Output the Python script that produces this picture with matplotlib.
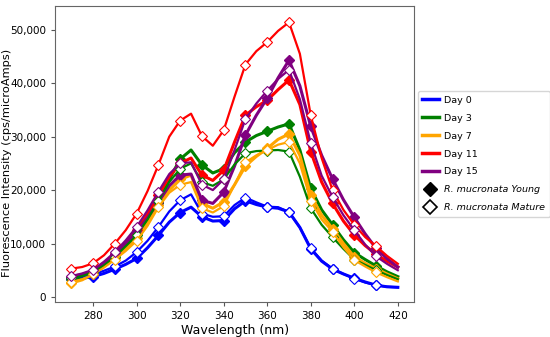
import matplotlib
matplotlib.use('Agg')
import matplotlib.pyplot as plt
from matplotlib.lines import Line2D
from matplotlib.ticker import FuncFormatter

# wavelengths (nm) sampled every 5 nm, markers every 10 nm
wavelength = list(range(270, 425, 5))

days = ['Day 0', 'Day 3', 'Day 7', 'Day 11', 'Day 15']
colors = ['blue', 'green', 'orange', 'red', 'purple']

# R. mucronata Young (filled markers)
young_day0 = [3300, 3500, 3800, 4400, 5200, 6100, 7200, 9200, 11500, 14000, 15800, 16800, 15000, 14200, 14300, 16500,
              18000, 17300, 16800, 16600, 15900, 13000, 9000, 6700, 5200, 4300, 3500, 2800, 2200, 1900, 1800]
young_day3 = [3300, 3700, 4700, 6000, 7800, 9800, 12000, 14500, 17500, 22000, 25800, 27500, 24700, 23200, 24000, 27000,
              29000, 30200, 31000, 31800, 32400, 27500, 20300, 16300, 13500, 10700, 8300, 7000, 5800, 4700, 3800]
young_day7 = [2600, 3200, 4300, 5700, 7300, 9000, 11000, 13800, 17200, 20000, 22000, 22800, 17500, 16600, 17800, 21000,
              24500, 26300, 27800, 29500, 30500, 26500, 19000, 15300, 12800, 10000, 7500, 6300, 5300, 4300, 3400]
young_day11 = [3800, 4200, 4800, 6200, 8000, 10000, 12500, 15500, 19000, 22500, 25000, 26000, 22800, 21800, 23700, 29000,
               34000, 35600, 36800, 38800, 40600, 36000, 27200, 21500, 17500, 14200, 11600, 9600, 8000, 6700, 5600]
young_day15 = [3600, 4000, 4700, 6200, 8000, 10000, 12200, 14800, 17800, 20800, 22800, 23000, 18100, 17500, 19600, 24500,
               30300, 34000, 37200, 41000, 44300, 39500, 31900, 26500, 22100, 18200, 14900, 11800, 9100, 7200, 5600]

# R. mucronata Mature (open markers)
mature_day0 = [3600, 3800, 4200, 4900, 5700, 6800, 8400, 10500, 13100, 16000, 18100, 19200, 15600, 15000, 15100, 17200,
               18600, 17700, 16900, 16800, 15900, 13000, 9100, 6800, 5300, 4300, 3400, 2700, 2200, 1900, 1800]
mature_day3 = [3500, 3900, 4600, 5900, 7500, 9500, 11500, 14500, 18000, 21500, 24000, 25000, 21500, 20800, 22000, 24800,
               26900, 27300, 27400, 27500, 27200, 22500, 16600, 13500, 11200, 9000, 7000, 6000, 5000, 4100, 3300]
mature_day7 = [2800, 3300, 4200, 5500, 7000, 8600, 10500, 13300, 16800, 19500, 21000, 21500, 16600, 15800, 17000, 21000,
               25200, 26500, 27500, 28500, 29000, 25000, 18000, 14500, 12200, 9300, 6900, 5700, 4600, 3700, 2900]
mature_day11 = [5300, 5600, 6300, 7800, 10000, 12500, 15600, 19800, 24700, 30000, 33000, 34300, 30100, 28300, 31200, 37500,
                43500, 46000, 47700, 49800, 51400, 45500, 34000, 26000, 20000, 16300, 13500, 11200, 9500, 7700, 6200]
mature_day15 = [3900, 4400, 5100, 6600, 8400, 10600, 13100, 16200, 19700, 23000, 25000, 25200, 21000, 20000, 22000, 27500,
                33300, 36200, 38600, 40800, 42500, 37000, 28800, 22700, 18700, 15300, 12500, 9800, 7600, 6200, 5000]

young = [young_day0, young_day3, young_day7, young_day11, young_day15]
mature = [mature_day0, mature_day3, mature_day7, mature_day11, mature_day15]

fig = plt.figure(figsize=(5.5, 3.37), dpi=100)
ax = fig.add_axes([0.1, 0.104, 0.653, 0.878])

marks = list(range(0, len(wavelength) - 1, 2))

for vals, c in zip(young, colors):
    ax.plot(wavelength, vals, color=c, lw=2.2, marker='D', ms=5.5, markevery=marks,
            mfc=c, mec=c, mew=1)
for vals, c in zip(mature, colors):
    ax.plot(wavelength, vals, color=c, lw=1.6, marker='D', ms=5.5, markevery=marks,
            mfc='white', mec=c, mew=0.8)

ax.set_xlim(262.5, 427.5)
ax.set_ylim(-940, 54440)
ax.set_xticks(range(280, 421, 20))
ax.set_yticks(range(0, 50001, 10000))
ax.yaxis.set_major_formatter(FuncFormatter(lambda v, p: f'{int(v):,}'))
ax.tick_params(labelsize=7.5, length=3, color='#555555')
for s in ax.spines.values():
    s.set_color('#666666')

ax.set_xlabel('Wavelength (nm)', fontsize=9, labelpad=2)
ax.set_ylabel('Fluorescence Intensity (cps/microAmps)', fontsize=8.2)
ax.yaxis.set_label_coords(-0.12, 0.47)

handles = [Line2D([], [], color=c, lw=2.5) for c in colors]
handles.append(Line2D([], [], ls='none', marker='D', ms=7, mfc='black', mec='black'))
handles.append(Line2D([], [], ls='none', marker='D', ms=7, mfc='white', mec='black', mew=1.2))
labels = days + ['R. mucronata Young', 'R. mucronata Mature']
leg = ax.legend(handles, labels, loc='center left', bbox_to_anchor=(1.01, 0.5),
                fontsize=6.8, frameon=True, borderaxespad=0, handlelength=1.7,
                handletextpad=0.6, borderpad=0.5, labelspacing=0.95)
for t in leg.get_texts()[5:]:
    t.set_fontstyle('italic')

fig.savefig('out.png', dpi=100)
